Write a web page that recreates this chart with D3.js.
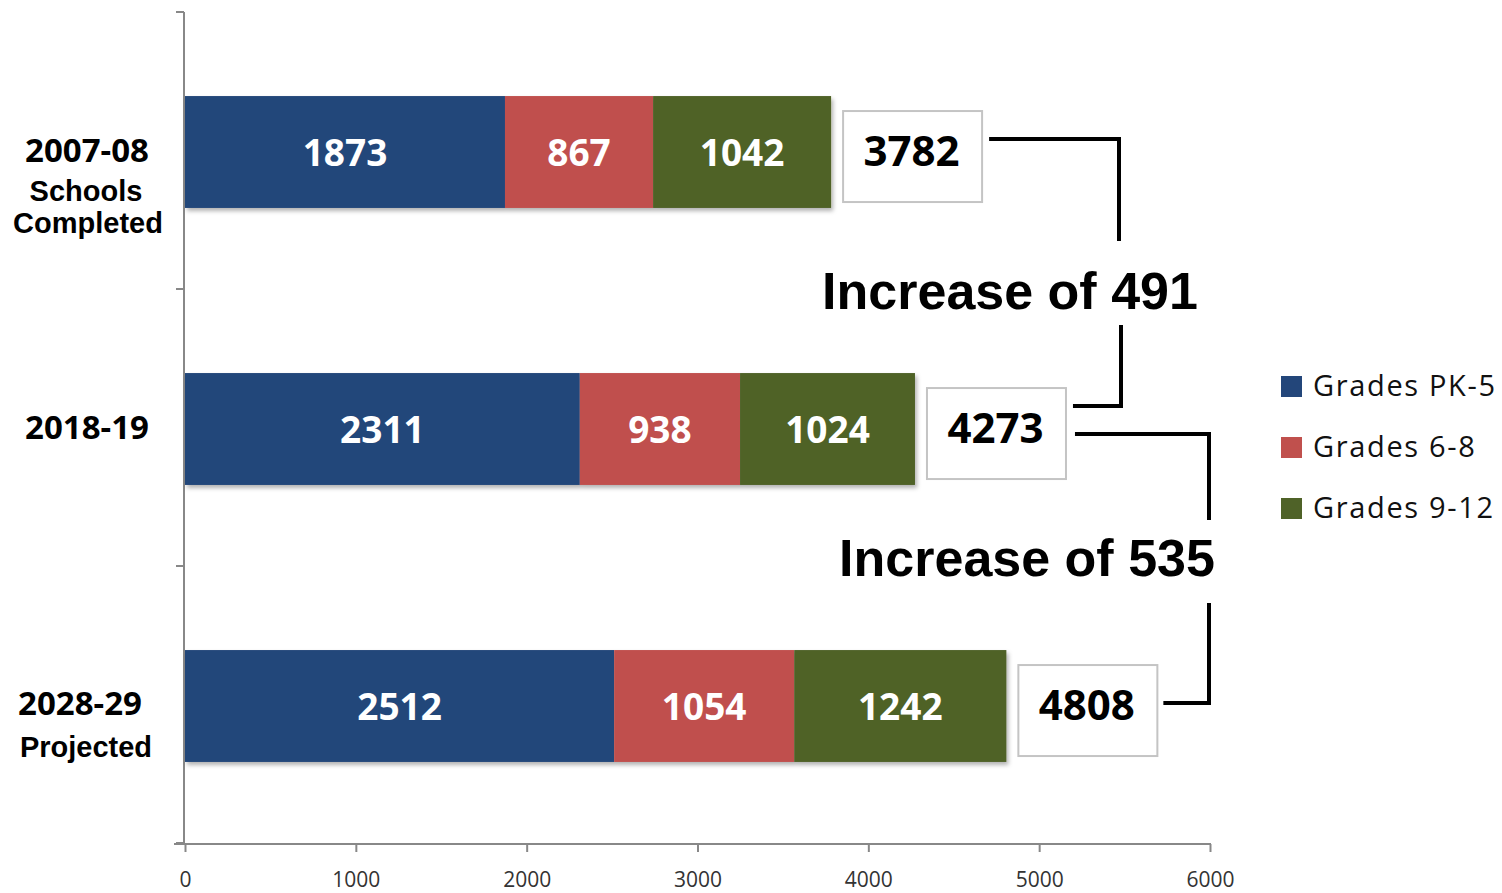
<!DOCTYPE html>
<html>
<head>
<meta charset="utf-8">
<script src="https://cdn.jsdelivr.net/npm/d3@7"></script>
<style>
  html, body { margin: 0; padding: 0; background: #fff; }
  svg { display: block; }
</style>
</head>
<body>
<svg id="chart" width="1502" height="893"></svg>
<script>
// ---- data ----
const categories = ["2007-08", "2018-19", "2028-29"];
const categoryLabelLines = [["2007-08", "Schools", "Completed"], ["2018-19"], ["2028-29", "Projected"]];
const seriesNames = ["Grades PK-5", "Grades 6-8", "Grades 9-12"];
const gradesPK5 = [1873, 2311, 2512];
const grades6to8 = [867, 938, 1054];
const grades9to12 = [1042, 1024, 1242];
const totals = [3782, 4273, 4808];
const increases = [491, 535];
const xTickValues = [0, 1000, 2000, 3000, 4000, 5000, 6000];
const colors = ["#23467a", "#c0504d", "#4f6228"];

// ---- layout ----
const svg = d3.select("#chart");
const x = d3.scaleLinear().domain([0, 6000]).range([185, 1210]);
const y = d3.scaleBand().domain(categories).range([12, 843]).padding(0);
const step = y.step();
const barH = step * 0.404;
const barTop = c => y(c) + (step - barH) / 2 + 1.5;
const barMid = c => barTop(c) + barH / 2;

const rows = categories.map((c, i) => ({
  cat: c, "Grades PK-5": gradesPK5[i], "Grades 6-8": grades6to8[i], "Grades 9-12": grades9to12[i]
}));
const stacked = d3.stack().keys(seriesNames)(rows);

// shadow filter
const defs = svg.append("defs");
const f = defs.append("filter").attr("id", "shadow").attr("x", "-5%").attr("y", "-20%").attr("width", "110%").attr("height", "150%");
f.append("feDropShadow").attr("dx", 2).attr("dy", 3).attr("stdDeviation", 2.2).attr("flood-color", "#000").attr("flood-opacity", 0.3);

// axes
const axisColor = "#888";
const yAxis = svg.append("g").attr("transform", "translate(184,0)")
  .call(d3.axisLeft(y).tickValues([]).tickSizeOuter(0));
yAxis.select(".domain").remove();
svg.append("line").attr("x1", 184).attr("x2", 184).attr("y1", 12).attr("y2", 844)
  .attr("stroke", axisColor).attr("stroke-width", 2);
const yTickPos = [12].concat(categories.map(c => y(c) + step));
svg.append("g").selectAll("line").data(yTickPos).join("line")
  .attr("x1", 176).attr("x2", 184).attr("y1", d => d).attr("y2", d => d)
  .attr("stroke", axisColor).attr("stroke-width", 2);

const xAxis = svg.append("g").attr("transform", "translate(0,844)")
  .call(d3.axisBottom(x).tickValues(xTickValues).tickSize(8).tickSizeOuter(0).tickFormat(d3.format("d")));
xAxis.select(".domain").remove();
svg.append("line").attr("x1", 174).attr("x2", 1211).attr("y1", 844).attr("y2", 844)
  .attr("stroke", axisColor).attr("stroke-width", 2);
xAxis.selectAll(".tick line").attr("stroke", axisColor).attr("stroke-width", 2);
xAxis.selectAll(".tick text").attr("y", 0).attr("dy", 42.5)
  .attr("font-family", "'Open Sans', sans-serif").attr("font-size", 21).attr("fill", "#333");

// category labels
const lineOffsets = [[11.5, 50.5, 82.5], [11.5], [10.5, 52.5]];
const lineX = [[87, 86, 88], [87], [80, 86]];
categories.forEach((c, i) => {
  categoryLabelLines[i].forEach((t, j) => {
    svg.append("text")
      .attr("x", lineX[i][j]).attr("y", y(c) + step / 2 + lineOffsets[i][j])
      .attr("text-anchor", "middle")
      .attr("font-family", j === 0 ? "'Open Sans', sans-serif" : "'Liberation Sans', Arial, sans-serif")
      .attr("font-weight", "bold")
      .attr("font-size", j === 0 ? 33 : 29)
      .attr("fill", "#000")
      .text(t);
  });
});

// bars
const barsG = svg.append("g").attr("filter", "url(#shadow)");
stacked.forEach((s, si) => {
  barsG.append("g").selectAll("rect").data(s).join("rect")
    .attr("x", d => x(d[0])).attr("width", d => x(d[1]) - x(d[0]))
    .attr("y", d => barTop(d.data.cat)).attr("height", barH)
    .attr("fill", colors[si]);
});
stacked.forEach((s, si) => {
  svg.append("g").selectAll("text").data(s).join("text")
    .attr("x", d => (x(d[0]) + x(d[1])) / 2)
    .attr("y", d => barMid(d.data.cat) + 13.5)
    .attr("text-anchor", "middle")
    .attr("font-family", "'Open Sans', sans-serif").attr("font-weight", "bold")
    .attr("font-size", 37).attr("fill", "#fff")
    .text(d => d[1] - d[0]);
});

// total boxes
const boxW = 139, boxH = 91;
const boxes = categories.map((c, i) => ({ x: x(totals[i]) + 12, y: barTop(c) + 15, total: totals[i] }));
svg.append("g").selectAll("rect").data(boxes).join("rect")
  .attr("x", d => d.x).attr("y", d => d.y).attr("width", boxW).attr("height", boxH)
  .attr("fill", "#fff").attr("stroke", "#c4c4c4").attr("stroke-width", 2);
svg.append("g").selectAll("text").data(boxes).join("text")
  .attr("x", d => d.x + boxW / 2 - 1).attr("y", d => d.y + 55)
  .attr("text-anchor", "middle")
  .attr("font-family", "'Open Sans', sans-serif").attr("font-weight", "bold")
  .attr("font-size", 42).attr("fill", "#000")
  .text(d => d.total);

// brackets & increase labels
const br = svg.append("g").attr("fill", "none").attr("stroke", "#000").attr("stroke-width", 4);
const b0 = boxes[0], b1 = boxes[1], b2 = boxes[2];
br.append("path").attr("d", `M${b0.x + boxW + 7},${b0.y + 28} H1119 V241`);
br.append("path").attr("d", `M1121,325 V${b1.y + 18} H${b1.x + boxW + 7}`);
br.append("path").attr("d", `M${b1.x + boxW + 9},${b1.y + 46} H1209 V520`);
br.append("path").attr("d", `M1209,603 V${b2.y + 38} H${b2.x + boxW + 6}`);

const incPos = [{ cx: 1010, by: 309 }, { cx: 1027, by: 576 }];
increases.forEach((v, i) => {
  svg.append("text")
    .attr("x", incPos[i].cx).attr("y", incPos[i].by)
    .attr("text-anchor", "middle")
    .attr("font-family", "'Liberation Sans', Arial, sans-serif").attr("font-weight", "bold")
    .attr("font-size", 52).attr("fill", "#000")
    .text("Increase of " + v);
});

// legend
const legend = svg.append("g");
seriesNames.forEach((n, i) => {
  const ly = 376 + i * 61;
  legend.append("rect").attr("x", 1281).attr("y", ly).attr("width", 21).attr("height", 21)
    .attr("fill", colors[i]);
  legend.append("text").attr("x", 1313).attr("y", ly + 20)
    .attr("font-family", "'Open Sans', sans-serif").attr("font-size", 29)
    .attr("letter-spacing", 1.65).attr("fill", "#111")
    .text(n);
});
</script>
</body>
</html>
